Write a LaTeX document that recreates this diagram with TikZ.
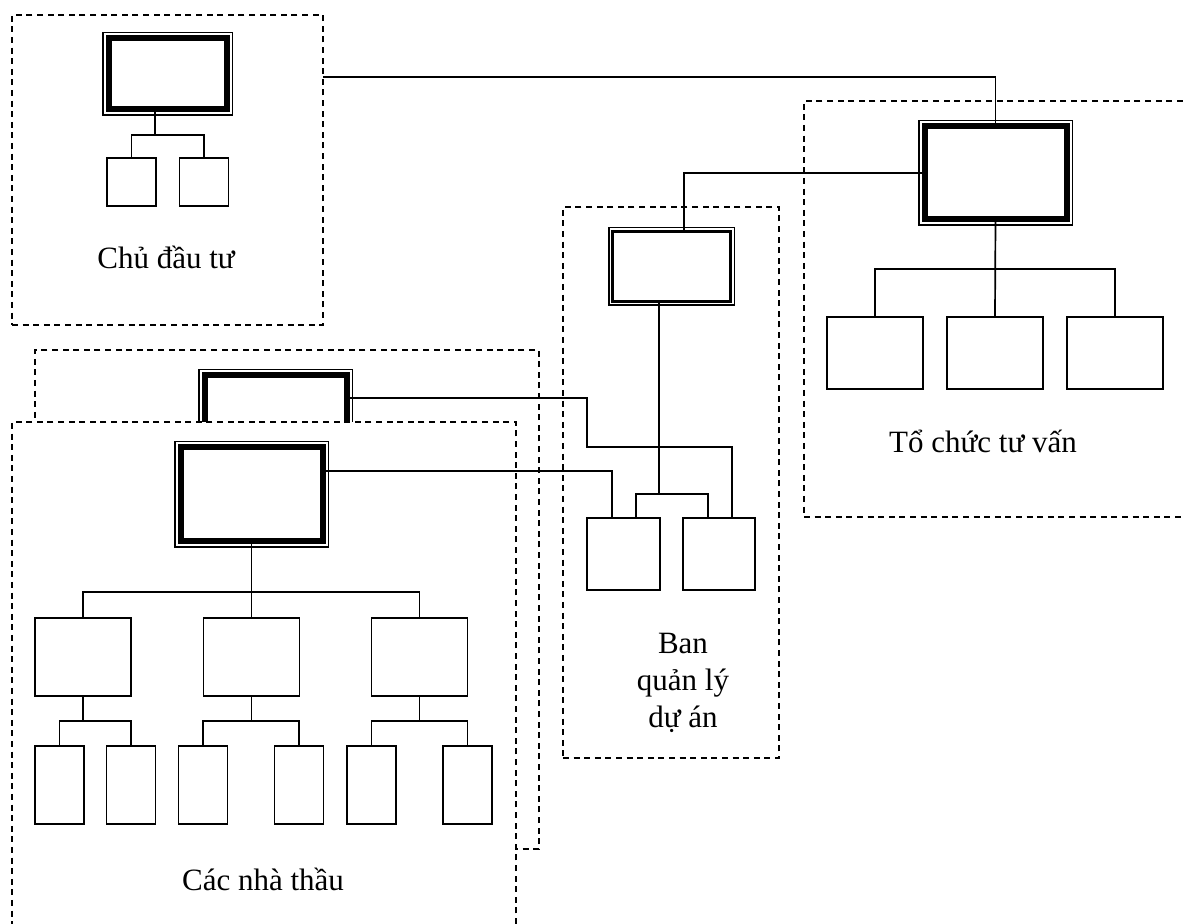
\documentclass[tikz,border=0pt]{standalone}
\usepackage{fontspec}
\setmainfont{Liberation Serif}
\usetikzlibrary{calc}
\tikzset{
	shema/.style={x=0.5pt, y=-0.5pt},
	obmocje/.style={draw, line width=0.9pt, dash pattern=on 3pt off 2.3pt, inner sep=0pt, outer sep=0pt},
	glava/.style={draw, line width=3pt, fill=white, inner sep=0pt, outer sep=0pt,
	              preaction={draw=black, line width=6.6pt},
	              preaction={draw=white, line width=5pt}},
	glavica/.style={draw, line width=1.6pt, fill=white, inner sep=0pt, outer sep=0pt,
	                preaction={draw=black, line width=4.6pt},
	                preaction={draw=white, line width=3pt}},
	celica/.style={draw, line width=0.95pt, fill=white, inner sep=0pt, outer sep=0pt},
	veja/.style={line width=0.85pt},
	napis/.style={font=\fontsize{15.5pt}{18.5pt}\selectfont, align=center, inner sep=0pt},
}

\begin{document}
\begin{tikzpicture}[shema]
\clip (0,0) rectangle (1184,924);

\node[obmocje, minimum width=155.5pt, minimum height=155pt] (cdtp) at (167.5,170) {};
\node[obmocje, minimum width=208pt, minimum height=208pt] (tvp) at (1012,309) {};
\node[obmocje, minimum width=108pt, minimum height=275.5pt] (bqp) at (671,482.5) {};
\node[obmocje, minimum width=252pt, minimum height=249.5pt] (ntbp) at (287,599.5) {};
\node[glava, minimum width=71pt, minimum height=47pt] (ntb) at (275.5,422.5) {};
\node[obmocje, fill=white, minimum width=252pt, minimum height=264pt] (ntfp) at (264,686) {};

\node[glava, minimum width=59pt, minimum height=35.5pt] (cdt) at (167.5,74) {};
\node[celica, minimum width=24.5pt, minimum height=24pt] (c1) at (131.5,182) {};
\node[celica, minimum width=24.5pt, minimum height=24pt] (c2) at (204,182) {};
\node[napis, anchor=base] at (166,269) {Chủ đầu tư};

\node[glava, minimum width=71pt, minimum height=46.5pt] (tctv) at (995.5,173) {};
\node[celica, minimum width=48pt, minimum height=36pt] (tv1) at (875,353) {};
\node[celica, minimum width=48pt, minimum height=36pt] (tv2) at (995,353) {};
\node[celica, minimum width=48pt, minimum height=36pt] (tv3) at (1115,353) {};
\node[napis, anchor=base] at (983,453) {Tổ chức tư vấn};

\node[glavica, minimum width=59pt, minimum height=35pt] (bql) at (671.5,266.5) {};
\node[celica, minimum width=36.5pt, minimum height=36pt] (bq1) at (623.5,554) {};
\node[celica, minimum width=36pt, minimum height=36pt] (bq2) at (719,554) {};
\node[napis] at (683,683) {Ban\\quản lý\\dự án};

\node[glava, minimum width=71pt, minimum height=47pt] (ntf) at (251.5,494.5) {};
\foreach \i/\x in {1/83,2/251.5,3/419.5}
	\node[celica, minimum width=48pt, minimum height=39pt] (nt\i) at (\x,657) {};
\foreach \i/\x in {1/59.5,2/131,3/203,4/299,5/371.5,6/467.5}
	\node[celica, minimum width=24.5pt, minimum height=39pt] (nc\i) at (\x,785) {};
\node[napis, anchor=base] at (263,890) {Các nhà thầu};

\coordinate (cdr) at (155,135);
\coordinate (tvr) at (995.5,269);
\coordinate (bqr) at (659,494);
\coordinate (ntr) at (251.5,592);

\draw[veja] (cdr |- cdt.south) -- (cdr);
\draw[veja] (c1.north) |- (cdr) -| (c2.north);
\draw[veja] ($(cdtp.east)+(0,-93)$) -| (tctv.north);

\draw[veja] (tctv.south) -- (tv2.north);
\draw[veja] (tv1.north) |- (tvr) -| (tv3.north);
\draw[veja] (tctv.west) -| ($(bql.north)+(12.5,0)$);

\draw[veja] (bqr |- bql.south) -- (bqr);
\draw[veja] ($(bq1.north east)+(-24,0)$) |- (bqr) -| ($(bq2.north west)+(25,0)$);

\draw[veja] (ntf.south) -- (nt2.north);
\draw[veja] (nt1.north) |- (ntr) -| (nt3.north);
\foreach \i/\a/\b in {1/1/2,2/3/4,3/5/6} {
	\draw[veja] (nt\i.south) -- ++(0,25) coordinate (r\i);
	\draw[veja] (nc\a.north) |- (r\i) -| (nc\b.north);
}

\draw[veja] ($(ntf.east)+(0,-23.5)$) -| ($(bq1.north west)+(25,0)$);
\draw[veja] ($(ntb.east)+(0,-24.5)$) -| ($(bq1.north west)+(0,-71)$) -| ($(bq2.north east)+(-23,0)$);

\end{tikzpicture}
\end{document}
